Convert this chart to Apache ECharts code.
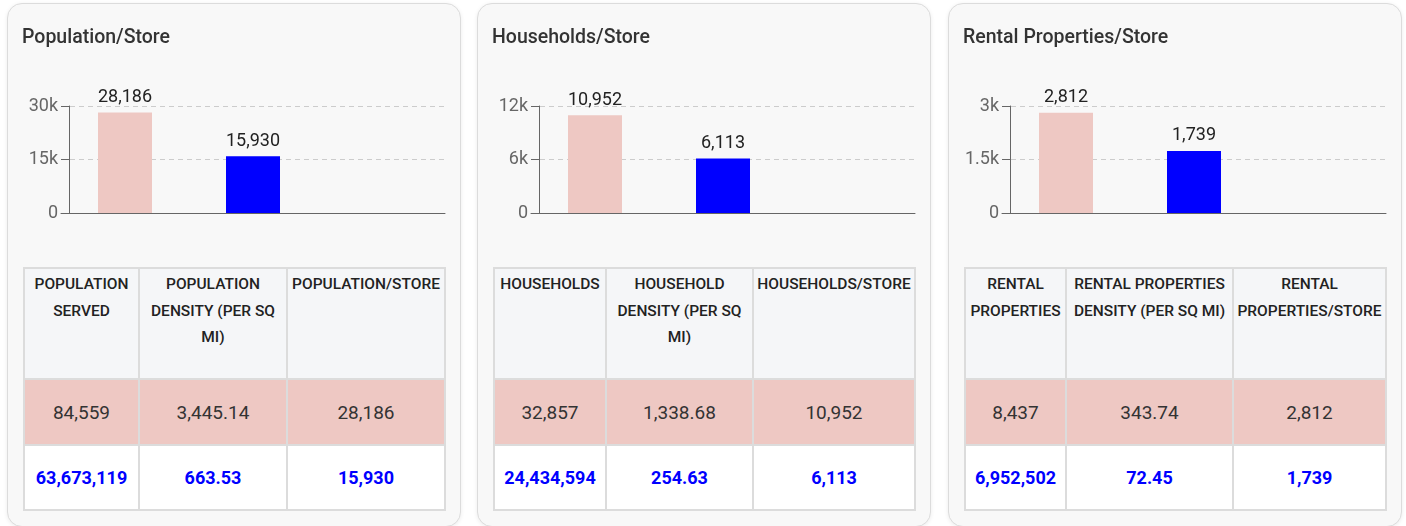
<!DOCTYPE html>
<html>
<head>
<meta charset="utf-8">
<script src="https://cdn.jsdelivr.net/npm/echarts@6/dist/echarts.min.js"></script>
<style>
html, body { margin:0; padding:0; background:#ffffff; width:1406px; height:526px; overflow:hidden; font-family: Roboto, "Noto Sans", sans-serif; }
.card { position:absolute; top:3px; width:454px; height:524px; box-sizing:border-box; border:1px solid #dcdcdc; border-radius:15px; background:#f8f8f8; box-shadow:0 1px 4px rgba(0,0,0,0.08); }
.title { position:absolute; left:14px; top:21px; font-size:19.5px; font-weight:500; color:#333; white-space:nowrap; line-height:normal; }
.chart { position:absolute; left:0; top:0; width:452px; height:240px; }
table { position:absolute; left:15px; top:263px; width:421px; border-collapse:collapse; table-layout:fixed; }
th, td { border:2px solid #dcdcdc; text-align:center; padding:0 3px; }
th { background:#f5f6f8; vertical-align:top; font-size:15.5px; font-weight:500; line-height:26.6px; color:#222; padding-top:2px; }
tr.head { height:111px; }
tr.trade { height:66px; }
tr.bench { height:65px; }
td { font-size:19px; vertical-align:middle; }
tr.trade td { background:#eec8c3; color:#333; }
tr.bench td { background:#ffffff; color:#0000ff; font-weight:700; font-size:18px; }
</style>
</head>
<body>
<div id="root"></div>
<script>
// ---- data ----
const cardTitles = ['Population/Store', 'Households/Store', 'Rental Properties/Store'];
const barCategories = ['Trade Area', 'Benchmark', ''];
const tradeAreaPerStore = [28186, 10952, 2812];
const benchmarkPerStore = [15930, 6113, 1739];
const axisMax = [30000, 12000, 3000];
const axisTickLabels = [['0', '15k', '30k'], ['0', '6k', '12k'], ['0', '1.5k', '3k']];
const tableHeaders = [
  ['POPULATION SERVED', 'POPULATION DENSITY (PER SQ MI)', 'POPULATION/STORE'],
  ['HOUSEHOLDS', 'HOUSEHOLD DENSITY (PER SQ MI)', 'HOUSEHOLDS/STORE'],
  ['RENTAL PROPERTIES', 'RENTAL PROPERTIES DENSITY (PER SQ MI)', 'RENTAL PROPERTIES/STORE']
];
const tradeAreaTotals = [84559, 32857, 8437];
const tradeAreaDensity = [3445.14, 1338.68, 343.74];
const benchmarkTotals = [63673119, 24434594, 6952502];
const benchmarkDensity = [663.53, 254.63, 72.45];

// ---- layout ----
const cardLefts = [7, 477, 948];
const colWidths = [[115, 148, 158], [112, 147, 162], [101, 167, 153]];
const tradeColor = '#eec8c3';
const benchColor = '#0000ff';

const fmtInt = v => v.toLocaleString('en-US');
const fmtDec = v => v.toLocaleString('en-US', { minimumFractionDigits: 2, maximumFractionDigits: 2 });

const root = document.getElementById('root');
cardTitles.forEach((title, i) => {
  const card = document.createElement('div');
  card.className = 'card';
  card.style.left = cardLefts[i] + 'px';

  const chartDiv = document.createElement('div');
  chartDiv.className = 'chart';
  card.appendChild(chartDiv);

  const t = document.createElement('div');
  t.className = 'title';
  t.textContent = title;
  card.appendChild(t);

  const table = document.createElement('table');
  const cg = document.createElement('colgroup');
  colWidths[i].forEach(w => { const c = document.createElement('col'); c.style.width = w + 'px'; cg.appendChild(c); });
  table.appendChild(cg);
  const hr = document.createElement('tr'); hr.className = 'head';
  tableHeaders[i].forEach(h => { const th = document.createElement('th'); th.textContent = h; hr.appendChild(th); });
  table.appendChild(hr);
  const r1 = document.createElement('tr'); r1.className = 'trade';
  [fmtInt(tradeAreaTotals[i]), fmtDec(tradeAreaDensity[i]), fmtInt(tradeAreaPerStore[i])].forEach(v => { const td = document.createElement('td'); td.textContent = v; r1.appendChild(td); });
  table.appendChild(r1);
  const r2 = document.createElement('tr'); r2.className = 'bench';
  [fmtInt(benchmarkTotals[i]), fmtDec(benchmarkDensity[i]), fmtInt(benchmarkPerStore[i])].forEach(v => { const td = document.createElement('td'); td.textContent = v; r2.appendChild(td); });
  table.appendChild(r2);
  card.appendChild(table);

  root.appendChild(card);

  const chart = echarts.init(chartDiv, null, { renderer: 'canvas' });
  const labels = axisTickLabels[i];
  chart.setOption({
    animation: false,
    textStyle: { fontFamily: 'Roboto' },
    grid: { left: 53, top: 102, width: 384, height: 107, containLabel: false },
    xAxis: {
      type: 'category',
      data: barCategories,
      boundaryGap: true,
      axisLine: { show: true, lineStyle: { color: '#666', width: 1 } },
      axisTick: { show: false },
      axisLabel: { show: false },
      splitLine: { show: false }
    },
    yAxis: {
      type: 'value',
      min: 0,
      max: axisMax[i],
      interval: axisMax[i] / 2,
      offset: -8,
      axisLine: { show: true, lineStyle: { color: '#666', width: 1 } },
      axisTick: { show: true, length: 8, lineStyle: { color: '#666' } },
      axisLabel: { show: true, fontSize: 18, color: '#666', margin: 11, fontFamily: 'Roboto',
        formatter: (v, idx) => labels[idx] },
      splitLine: { show: true, lineStyle: { color: '#ccc', type: [5, 4], width: 1 } }
    },
    series: [{
      type: 'bar',
      barWidth: 54,
      data: [
        { value: tradeAreaPerStore[i], itemStyle: { color: tradeColor } },
        { value: benchmarkPerStore[i], itemStyle: { color: benchColor } },
        null
      ],
      label: {
        show: true, position: 'top', distance: 6, fontSize: 18, color: '#222', fontFamily: 'Roboto',
        formatter: p => fmtInt(p.value)
      }
    }]
  });
});
</script>
</body>
</html>
